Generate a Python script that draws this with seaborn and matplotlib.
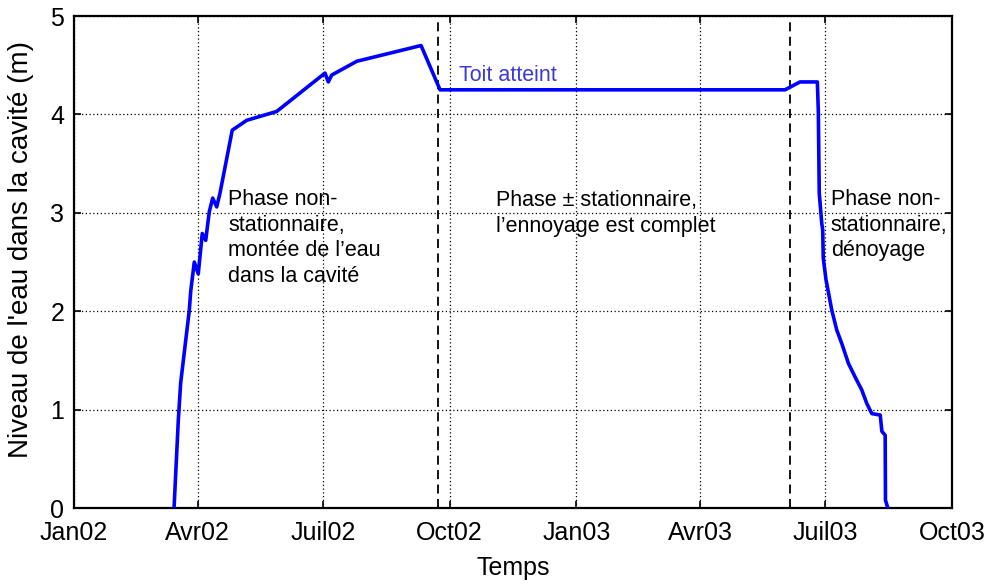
import matplotlib
matplotlib.use("Agg")
import matplotlib.pyplot as plt
import pandas as pd
import seaborn as sns

# Water level in the cavity over time
times = [
    "2002-03-14 17:00", "2002-03-17 19:00", "2002-03-19 12:00", "2002-03-25 19:00",
    "2002-03-26 19:00", "2002-03-29 10:00", "2002-04-01 07:00", "2002-04-04 05:00",
    "2002-04-06 17:00", "2002-04-09 07:00", "2002-04-11 19:00", "2002-04-14 17:00",
    "2002-04-17 02:00", "2002-04-26 00:00", "2002-05-06 12:00", "2002-05-28 07:00",
    "2002-07-02 10:00", "2002-07-04 19:00", "2002-07-07 07:00", "2002-07-25 12:00",
    "2002-09-10 05:00", "2002-09-24 00:00", "2003-06-01 17:00", "2003-06-12 14:00",
    "2003-06-25 05:00", "2003-06-25 22:00", "2003-06-26 14:00", "2003-06-28 10:00",
    "2003-06-29 02:00", "2003-06-29 12:00", "2003-07-01 12:00", "2003-07-05 17:00",
    "2003-07-09 07:00", "2003-07-13 00:00", "2003-07-17 19:00", "2003-07-22 17:00",
    "2003-07-27 12:00", "2003-07-31 05:00", "2003-08-03 19:00", "2003-08-09 22:00",
    "2003-08-11 02:00", "2003-08-13 12:00", "2003-08-13 17:00", "2003-08-15 05:00",
]
levels = [
    0.00, 0.89, 1.27, 2.01,
    2.20, 2.50, 2.38, 2.79,
    2.72, 3.01, 3.15, 3.06,
    3.20, 3.84, 3.94, 4.03,
    4.42, 4.33, 4.40, 4.54,
    4.70, 4.25, 4.25, 4.33,
    4.33, 4.03, 3.20, 2.89,
    2.83, 2.54, 2.32, 2.01,
    1.81, 1.67, 1.47, 1.33,
    1.20, 1.06, 0.96, 0.945,
    0.78, 0.74, 0.08, 0.01,
]

# Boundaries between the phases
phase_bounds = ["2002-09-22 14:00", "2003-06-05 07:00"]

tick_dates = ["2002-01-01", "2002-04-01", "2002-07-01", "2002-10-01",
              "2003-01-01", "2003-04-01", "2003-07-01", "2003-10-01"]
tick_labels = ["Jan02", "Avr02", "Juil02", "Oct02", "Jan03", "Avr03", "Juil03", "Oct03"]
y_ticks = [0, 1, 2, 3, 4, 5]

df = pd.DataFrame({"Temps": pd.to_datetime(times), "Niveau": levels})

sns.set_style("ticks")
plt.rcParams["font.family"] = ["Liberation Sans", "DejaVu Sans"]
plt.rcParams["text.color"] = "black"
plt.rcParams["axes.labelcolor"] = "black"
plt.rcParams["xtick.color"] = "black"
plt.rcParams["ytick.color"] = "black"

fig = plt.figure(figsize=(9.92, 5.84), dpi=100)
ax = fig.add_axes([0.0746, 0.130, 0.885, 0.8426])

sns.lineplot(data=df, x="Temps", y="Niveau", sort=False, estimator=None,
             color="#0000ff", linewidth=2.6, ax=ax, zorder=5)

for b in phase_bounds:
    ax.axvline(pd.Timestamp(b), color="black", linewidth=1.3,
               linestyle=(0, (5, 3)), zorder=3)

xt = pd.to_datetime(tick_dates)
ax.set_xlim(xt[0], xt[-1])
ax.set_ylim(0, 5)
ax.set_xticks(xt)
ax.set_xticklabels(tick_labels)
ax.set_yticks(y_ticks)
ax.set_yticklabels([str(v) for v in y_ticks])

ax.grid(True, color="black", linestyle=(0, (1, 2)), linewidth=0.9)
for s in ax.spines.values():
    s.set_visible(True)
    s.set_color("black")
    s.set_linewidth(1.6)
ax.tick_params(direction="in", length=5, width=1.2, top=True, right=True,
               labelsize=18, colors="black")
ax.tick_params(axis="x", pad=9)
ax.tick_params(axis="y", pad=7)

ax.set_xlabel("Temps", fontsize=18, labelpad=8)
ax.set_ylabel("Niveau de l'eau dans la cavité (m)", fontsize=20)
ax.yaxis.set_label_coords(-0.046, 0.525)

txt_kw = dict(fontsize=15.5, va="top", ha="left", linespacing=1.28, color="black", zorder=6)
ax.text(pd.Timestamp("2002-04-23"), 3.24,
        "Phase non-\nstationnaire,\nmontée de l’eau\ndans la cavité", **txt_kw)
ax.text(pd.Timestamp("2002-11-04"), 3.23,
        "Phase \u00b1 stationnaire,\nl’ennoyage est complet", **txt_kw)
ax.text(pd.Timestamp("2003-07-05"), 3.24,
        "Phase non-\nstationnaire,\ndénoyage", **txt_kw)
ax.text(pd.Timestamp("2002-10-08"), 4.40, "Toit atteint", fontsize=15.5,
        color="#3a3ad8", va="center", ha="left", zorder=6)

fig.savefig("out.png", dpi=100)
